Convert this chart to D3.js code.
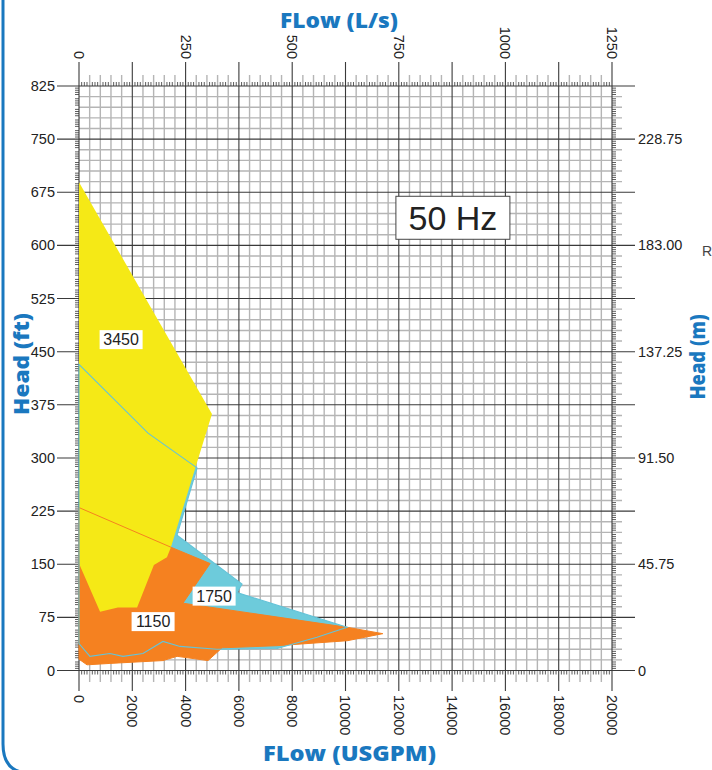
<!DOCTYPE html>
<html><head><meta charset="utf-8">
<script src="https://cdn.jsdelivr.net/npm/d3@7"></script>
<style>body{margin:0;background:#fff}svg{display:block}</style>
</head><body><svg id="c" width="712" height="770"></svg>
<script>
// ---- data ----
const flowGpmTicks = [0,2000,4000,6000,8000,10000,12000,14000,16000,18000,20000];
const flowLpsTicks = [0,250,500,750,1000,1250];
const headFtTicks = [0,75,150,225,300,375,450,525,600,675,750,825];
const headMTicks = [0,45.75,91.5,137.25,183,228.75];

const speed3450Gpm = [0,4990,4350,3450,3300,2810,2180,1460,790,0];
const speed3450Ft  = [689,362,284,174,160,149,89,89,83,151];
const speed1750Gpm = [0,2590,4430,3680,6120,5930,10060,8930,7430,5180,3790,3150,2400,1650,1160,410,0];
const speed1750Ft  = [432,335,286,191,122,110,61,47,31,30,34,41,24,20,24,20,38];
const speed1150Gpm = [0,3450,4920,3900,10060,11400,10060,7430,5370,4840,3680,3150,1160,300,0];
const speed1150Ft  = [230,174,151,95,61,52,42,35,32,14,20,14,10,8,16];

const speedLabels   = ["3450","1750","1150"];
const speedLabelGpm = [1580,5070,2780];
const speedLabelFt  = [467,105,69];
const freqLabel = "50 Hz";
const freqGpm = 14030, freqFt = 639;

// ---- scales ----
const svg = d3.select("#c");
const x = d3.scaleLinear().domain([0,20000]).range([79,612]);
const xTop = d3.scaleLinear().domain([0,1250]).range([79,612]);
const y = d3.scaleLinear().domain([0,825]).range([670.5,86]);
const yR = d3.scaleLinear().domain([0,825*0.305]).range([670.5,86]);

const blue = "#1a78bf";
const font = "'Liberation Sans', Arial, sans-serif";

// border
svg.append("path").attr("d","M3,0 L3,744 Q3,773 30,773 L712,773")
  .attr("fill","none").attr("stroke",blue).attr("stroke-width",3);

const g = svg.append("g");

// minor grid
const minorV = d3.range(400,20000,400).filter(v=>v%2000!==0);
g.selectAll(".mv").data(minorV).join("line")
  .attr("x1",d=>x(d)).attr("x2",d=>x(d)).attr("y1",75).attr("y2",682)
  .attr("stroke","#b5b5b5").attr("stroke-width",1.4);
const minorH = d3.range(15,825,15).filter(v=>v%75!==0);
g.selectAll(".mh").data(minorH).join("line")
  .attr("x1",79).attr("x2",622).attr("y1",d=>y(d)).attr("y2",d=>y(d))
  .attr("stroke","#b5b5b5").attr("stroke-width",1.4);

// small ticks
const tickGpm = d3.range(100,20000,100).filter(v=>v%400!==0);
g.selectAll(".tt").data(tickGpm).join("line")
  .attr("x1",d=>x(d)).attr("x2",d=>x(d)).attr("y1",y(825)-4).attr("y2",y(825))
  .attr("stroke","#333").attr("stroke-width",0.8);
g.selectAll(".tb").data(tickGpm).join("line")
  .attr("x1",d=>x(d)).attr("x2",d=>x(d)).attr("y1",y(0)).attr("y2",y(0)+4)
  .attr("stroke","#333").attr("stroke-width",0.8);
const tickFt = d3.range(3,825,3).filter(v=>v%15!==0);
g.selectAll(".tl").data(tickFt).join("line")
  .attr("x1",75).attr("x2",79).attr("y1",d=>y(d)).attr("y2",d=>y(d))
  .attr("stroke","#333").attr("stroke-width",0.8);
g.selectAll(".tr").data(tickFt).join("line")
  .attr("x1",612).attr("x2",616).attr("y1",d=>y(d)).attr("y2",d=>y(d))
  .attr("stroke","#333").attr("stroke-width",0.8);

// major grid
g.selectAll(".Mv").data(flowGpmTicks).join("line")
  .attr("x1",d=>x(d)).attr("x2",d=>x(d)).attr("y1",62).attr("y2",691)
  .attr("stroke","#3a3a3a").attr("stroke-width",1.1);
g.selectAll(".Mh").data(headFtTicks).join("line")
  .attr("x1",57).attr("x2",635).attr("y1",d=>y(d)).attr("y2",d=>y(d))
  .attr("stroke","#3a3a3a").attr("stroke-width",1.1);

// fills
function pts(gx, gy){ return gx.map((v,i)=>[x(v), y(gy[i])]); }
const line = d3.line();
const cyanPts = pts(speed1750Gpm, speed1750Ft);
const orangePts = pts(speed1150Gpm, speed1150Ft);
const yellowPts = pts(speed3450Gpm, speed3450Ft);
svg.append("path").attr("d", line(cyanPts)+"Z").attr("fill","#6dcbdb");
svg.append("path").attr("d", line(orangePts)+"Z").attr("fill","#f58120");
svg.append("path").attr("d", line(yellowPts)+"Z").attr("fill","#f5e916");
svg.append("path").attr("d", line(orangePts)+"Z").attr("fill","none").attr("stroke","#f58120").attr("stroke-width",1);
svg.append("path").attr("d", line(cyanPts)+"Z").attr("fill","none").attr("stroke","#64c3d8").attr("stroke-width",1.1);

// axis labels
const ax = svg.append("g").attr("font-family",font).attr("font-size",14.5).attr("fill","#222");
ax.selectAll(".ll").data(headFtTicks).join("text")
  .attr("x",55).attr("y",d=>y(d)).attr("dy","0.35em").attr("text-anchor","end").text(d=>d);
ax.selectAll(".rl").data(headMTicks).join("text")
  .attr("x",638).attr("y",d=>yR(d)).attr("dy","0.35em").text(d=>d===0?"0":d.toFixed(2));
ax.selectAll(".bl").data(flowGpmTicks).join("text")
  .attr("transform",d=>`translate(${x(d)},695) rotate(90)`).attr("dy","0.35em").text(d=>d);
ax.selectAll(".tl2").data(flowLpsTicks).join("text")
  .attr("transform",d=>`translate(${xTop(d)},59) rotate(90)`).attr("dy","0.35em").attr("text-anchor","end").text(d=>d);

// stray text at right edge
svg.append("text").attr("x",702).attr("y",256).attr("font-family",font).attr("font-size",14).attr("fill","#444").text("R");

// titles
const tf = "'Open Sans', 'DejaVu Sans', sans-serif";
svg.append("text").attr("x",339).attr("y",28).attr("text-anchor","middle")
  .attr("font-family",tf).attr("font-weight",800).attr("font-size",21).attr("fill",blue)
  .attr("textLength",118).attr("lengthAdjust","spacingAndGlyphs").text("FLow (L/s)");
svg.append("text").attr("x",349.5).attr("y",761).attr("text-anchor","middle")
  .attr("font-family",tf).attr("font-weight",800).attr("font-size",21).attr("fill",blue)
  .attr("textLength",173).attr("lengthAdjust","spacingAndGlyphs").text("FLow (USGPM)");
svg.append("text").attr("transform","translate(29,364) rotate(-90)").attr("text-anchor","middle")
  .attr("font-family",tf).attr("font-weight",800).attr("font-size",21).attr("fill",blue)
  .attr("textLength",102).attr("lengthAdjust","spacingAndGlyphs").text("Head (ft)");
svg.append("text").attr("transform","translate(705,357) rotate(-90)").attr("text-anchor","middle")
  .attr("font-family",tf).attr("font-weight",800).attr("font-size",21).attr("fill",blue)
  .attr("textLength",85).attr("lengthAdjust","spacingAndGlyphs").text("Head (m)");

// speed labels
const lg = svg.append("g").attr("font-family",font).attr("font-size",16).attr("fill","#222");
speedLabels.forEach((t,i)=>{
  const cx = x(speedLabelGpm[i]), cy = y(speedLabelFt[i]);
  lg.append("rect").attr("x",cx-21.5).attr("y",cy-9.5).attr("width",43).attr("height",19).attr("fill","#fff");
  lg.append("text").attr("x",cx).attr("y",cy).attr("dy","0.36em").attr("text-anchor","middle").text(t);
});
// frequency box
{
  const cx = x(freqGpm), cy = y(freqFt);
  svg.append("rect").attr("x",cx-57).attr("y",cy-21.5).attr("width",114).attr("height",43)
    .attr("fill","#fff").attr("stroke","#444").attr("stroke-width",1);
  svg.append("text").attr("x",cx).attr("y",cy).attr("dy","0.36em").attr("text-anchor","middle")
    .attr("font-family",font).attr("font-size",34).attr("fill","#222").text(freqLabel);
}
</script></body></html>
